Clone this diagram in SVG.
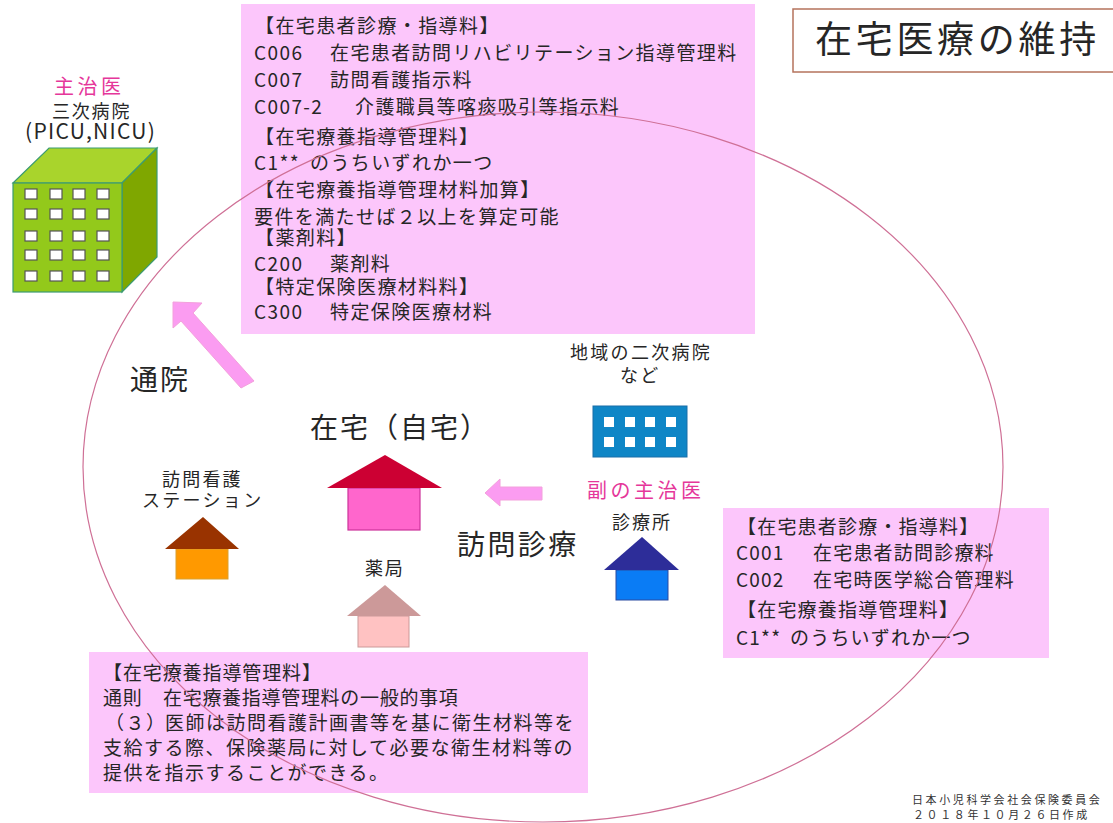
<svg xmlns="http://www.w3.org/2000/svg" width="1113" height="823" viewBox="0 0 1113 823">
<style>
text{font-family:"Noto Sans CJK JP","Noto Sans",sans-serif;fill:#262626;font-weight:400}
.b{fill:#fcc6fb}
.m{font-size:19px;letter-spacing:1.4px}
.r{font-size:19px;letter-spacing:1.2px}
.l{font-size:19px;letter-spacing:1.5px}
.big{font-size:28px;letter-spacing:2px}
.pk{fill:#e5379a;font-size:20px;letter-spacing:3.5px}
.w{fill:#fff;stroke:#555;stroke-width:1.2}
.bw{fill:#fff}
.arrow{fill:#fb9cf1;stroke:#f3a0dc;stroke-width:1}
.foot{font-size:11px;letter-spacing:2.6px;fill:#333}
</style>
<rect width="1113" height="823" fill="#fff"/>
<g id="title"><rect x="793" y="9" width="330" height="63" fill="#fff" stroke="#b5735c" stroke-width="1.5"/><text x="815" y="53" style="font-size:37px;letter-spacing:3.7px">在宅医療の維持</text></g>
<g id="hospital-main">
<text class="pk" x="54" y="94">主治医</text>
<text x="52" y="118" style="font-size:18px;letter-spacing:1.8px">三次病院</text>
<text x="25" y="139" style="font-size:21px;letter-spacing:1.3px">(PICU,NICU)</text>
<polygon points="13,183 49,148 157,148 122,183" fill="#a9d42c" stroke="#3b9b72" stroke-width="1.2"/>
<polygon points="122,183 157,148 157,257 122,292" fill="#7fa700" stroke="#3b9b72" stroke-width="1.2"/>
<rect x="13" y="183" width="109" height="109" fill="#93c91b" stroke="#3b9b72" stroke-width="1.2"/>
<g>
<rect class="w" x="25" y="189" width="12" height="10"/><rect class="w" x="50" y="189" width="12" height="10"/><rect class="w" x="73" y="189" width="12" height="10"/><rect class="w" x="97" y="189" width="12" height="10"/>
<rect class="w" x="25" y="209" width="12" height="10"/><rect class="w" x="50" y="209" width="12" height="10"/><rect class="w" x="73" y="209" width="12" height="10"/><rect class="w" x="97" y="209" width="12" height="10"/>
<rect class="w" x="25" y="231" width="12" height="10"/><rect class="w" x="50" y="231" width="12" height="10"/><rect class="w" x="73" y="231" width="12" height="10"/><rect class="w" x="97" y="231" width="12" height="10"/>
<rect class="w" x="25" y="250" width="12" height="10"/><rect class="w" x="50" y="250" width="12" height="10"/><rect class="w" x="73" y="250" width="12" height="10"/><rect class="w" x="97" y="250" width="12" height="10"/>
<rect class="w" x="25" y="271" width="12" height="10"/><rect class="w" x="50" y="271" width="12" height="10"/><rect class="w" x="73" y="271" width="12" height="10"/><rect class="w" x="97" y="271" width="12" height="10"/>
</g>
</g>
<g id="box-top">
<rect class="b" x="241" y="4" width="514" height="330"/>
<g class="m">
<text x="255" y="33">【在宅患者診療・指導料】</text>
<text x="254" y="60">C006<tspan x="330">在宅患者訪問リハビリテーション指導管理料</tspan></text>
<text x="254" y="87">C007<tspan x="330">訪問看護指示料</tspan></text>
<text x="254" y="114">C007-2<tspan x="355">介護職員等喀痰吸引等指示料</tspan></text>
<text x="255" y="144">【在宅療養指導管理料】</text>
<text x="254" y="170">C1**<tspan x="310">のうちいずれか一つ</tspan></text>
<text x="255" y="197">【在宅療養指導管理材料加算】</text>
<text x="254" y="224">要件を満たせば２以上を算定可能</text>
<text x="255" y="245">【薬剤料】</text>
<text x="254" y="271">C200<tspan x="330">薬剤料</tspan></text>
<text x="255" y="294">【特定保険医療材料料】</text>
<text x="254" y="319">C300<tspan x="330">特定保険医療材料</tspan></text>
</g>
</g>
<g id="label-tsuin"><text class="big" x="130" y="390">通院</text></g>
<g id="home">
<text x="310" y="438" style="font-size:28px;letter-spacing:2px">在宅（自宅）</text>
<rect x="348" y="488" width="72" height="42" fill="#ff66cc" stroke="#cc3399" stroke-width="1.2"/>
<polygon points="327,488 385,455 442,488" fill="#cc0033"/>
</g>
<g id="nurse-station">
<text x="162" y="486" style="font-size:18px;letter-spacing:2.2px">訪問看護</text>
<text x="142" y="507" style="font-size:18px;letter-spacing:2.3px">ステーション</text>
<rect x="176" y="549" width="52" height="30" fill="#ff9900" stroke="#d9a030" stroke-width="1"/>
<polygon points="165,549 203,517 239,549" fill="#993300"/>
</g>
<g id="pharmacy">
<text x="365" y="575" style="font-size:18px;letter-spacing:1.8px">薬局</text>
<rect x="358" y="616" width="51" height="31" fill="#ffc2c2" stroke="#cc9999" stroke-width="1"/>
<polygon points="347,616 385,585 421,616" fill="#cc9999"/>
</g>
<g id="label-homon"><text class="big" x="457" y="555" style="letter-spacing:2.4px">訪問診療</text></g>
<g id="hospital-sub">
<text x="570" y="359" style="font-size:18px;letter-spacing:2.3px">地域の二次病院</text>
<text x="620" y="382" style="font-size:18px;letter-spacing:2.3px">など</text>
<rect x="593" y="406" width="94" height="51" fill="#0f86c6" stroke="#1a6ea8" stroke-width="1"/>
<rect class="bw" x="604" y="417" width="10" height="10"/><rect class="bw" x="625" y="417" width="10" height="10"/><rect class="bw" x="645" y="417" width="10" height="10"/><rect class="bw" x="666" y="417" width="10" height="10"/>
<rect class="bw" x="604" y="437" width="10" height="10"/><rect class="bw" x="625" y="437" width="10" height="10"/><rect class="bw" x="645" y="437" width="10" height="10"/><rect class="bw" x="666" y="437" width="10" height="10"/>
</g>
<g id="clinic">
<text class="pk" x="587" y="498">副の主治医</text>
<text x="612" y="529" style="font-size:18px;letter-spacing:2px">診療所</text>
<rect x="616" y="570" width="52" height="30" fill="#0a7cf5" stroke="#2a4aa0" stroke-width="1"/>
<polygon points="604,570 642,537 679,570" fill="#2d2d99"/>
</g>
<g id="box-right">
<rect class="b" x="723" y="508" width="326" height="150"/>
<g class="r">
<text x="737" y="534">【在宅患者診療・指導料】</text>
<text x="736" y="560">C001<tspan x="813">在宅患者訪問診療料</tspan></text>
<text x="736" y="587">C002<tspan x="813">在宅時医学総合管理料</tspan></text>
<text x="737" y="617">【在宅療養指導管理料】</text>
<text x="736" y="645">C1**<tspan x="790">のうちいずれか一つ</tspan></text>
</g>
</g>
<g id="box-bottom">
<rect class="b" x="89" y="652" width="499" height="141"/>
<g class="l">
<text x="103" y="680" style="letter-spacing:.9px">【在宅療養指導管理料】</text>
<text x="103" y="705" style="letter-spacing:.7px">通則<tspan x="163">在宅療養指導管理料の一般的事項</tspan></text>
<text x="105" y="730">（３）<tspan x="165">医師は訪問看護計画書等を基に衛生材料等を</tspan></text>
<text x="103" y="755">支給する際、保険薬局に対して必要な衛生材料等の</text>
<text x="103" y="780">提供を指示することができる。</text>
</g>
</g>
<g id="footer">
<text class="foot" x="912" y="804">日本小児科学会社会保険委員会</text>
<text class="foot" x="913" y="819">２０１８年１０月２６日作成</text>
</g>
<g id="connectors">
<ellipse cx="543" cy="467" rx="460" ry="355" fill="none" stroke="#cf7096" stroke-width="1.2"/>
<polygon class="arrow" points="173,302 202,303 193,313 254,381 241,388 181,321 173,328"/>
<polygon class="arrow" points="485,493 500,479 500,487 542,487 542,500 500,500 500,506"/>
</g>
</svg>
